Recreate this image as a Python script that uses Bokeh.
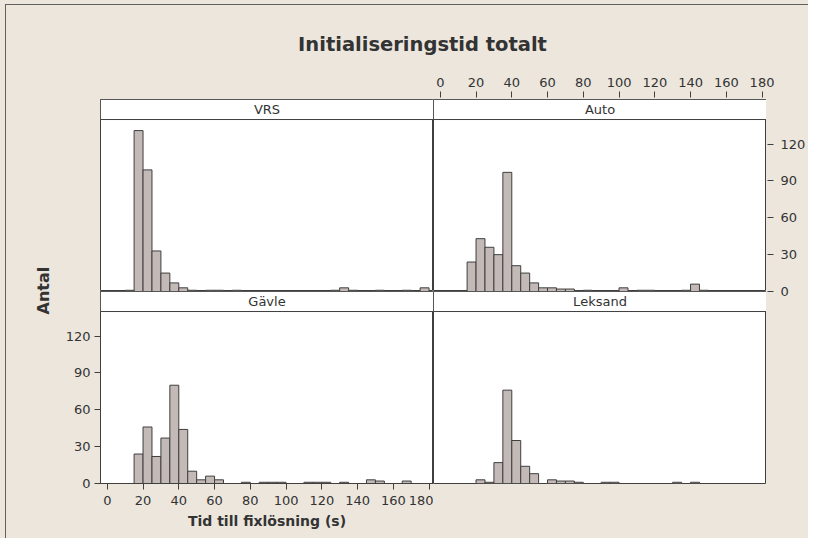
from bokeh.plotting import figure
from bokeh.models import Range1d, LinearAxis, FixedTicker, BoxAnnotation, Label, Spacer, Title
from bokeh.layouts import column, row
from bokeh.embed import file_html
from bokeh.resources import INLINE

# ---------------- data ----------------
title_text = "Initialiseringstid totalt"
x_label = "Tid till fixlösning (s)"
y_label = "Antal"
panel_names = ["VRS", "Auto", "Gävle", "Leksand"]

bin_width = 5
bin_left = [10, 15, 20, 25, 30, 35, 40, 45, 50, 55, 60, 65, 70, 75, 80, 85, 90,
            95, 100, 105, 110, 115, 120, 125, 130, 135, 140, 145, 150, 155, 160,
            165, 170, 175]
vrs = [1, 131, 99, 33, 15, 7, 3, 1, 0, 1, 1, 0, 1, 0, 0, 0, 0, 0, 0, 0, 0, 0, 0,
       1, 3, 1, 0, 0, 1, 0, 0, 1, 0, 3]
auto = [0, 24, 43, 36, 30, 97, 21, 15, 7, 3, 3, 2, 2, 0, 1, 0, 0, 0, 3, 0, 1, 1, 0,
        0, 0, 1, 6, 1, 0, 0, 0, 0, 0, 0]
gavle = [0, 24, 46, 22, 37, 80, 44, 10, 3, 6, 3, 0, 0, 1, 0, 1, 1, 1, 0, 0, 1, 1, 1,
         0, 1, 0, 0, 3, 2, 0, 0, 2, 0, 0]
leksand = [0, 0, 3, 1, 17, 76, 35, 14, 8, 0, 3, 2, 2, 1, 0, 0, 1, 1, 0, 0, 0, 0, 0,
           0, 1, 0, 1, 0, 0, 0, 0, 0, 0, 0]

x_ticks = [0, 20, 40, 60, 80, 100, 120, 140, 160, 180]
y_ticks = [0, 30, 60, 90, 120]

# ---------------- style ----------------
BG = "#ECE6DD"
LINE = "#3F3F3F"
BAR = "#C3B9B6"
TXT = "#333333"
FONT = "DejaVu Sans"

X_START, X_END = -3.8, 182.5
DATA_TOP = 140.0
Y_TOP = 156.3
FRAME_W, FRAME_H = 333, 192


def style_axis(ax):
    ax.major_tick_in = 0
    ax.major_tick_out = 6
    ax.minor_tick_line_color = None
    ax.axis_line_color = LINE
    ax.major_tick_line_color = LINE
    ax.major_label_text_font = FONT
    ax.major_label_text_font_size = "13px"
    ax.major_label_text_color = TXT
    ax.major_label_standoff = 4
    ax.axis_label_text_font = FONT
    ax.axis_label_text_font_style = "bold"
    ax.axis_label_text_font_size = "14px"
    ax.axis_label_text_color = TXT


def blank_fig(width, height, x_range, y_range, ml, mr, mt, mb):
    f = figure(width=width, height=height, x_range=x_range, y_range=y_range,
               output_backend="svg", toolbar_location=None,
               x_axis_location=None, y_axis_location=None,
               min_border_left=ml, min_border_right=mr,
               min_border_top=mt, min_border_bottom=mb)
    f.grid.visible = False
    f.outline_line_color = None
    f.background_fill_color = BG
    f.border_fill_color = BG
    return f


def panel(name, counts, width, height, ml, mt, mb):
    p = figure(width=width, height=height,
               x_range=Range1d(X_START, X_END), y_range=Range1d(0, Y_TOP),
               output_backend="svg", toolbar_location=None,
               x_axis_location=None, y_axis_location=None,
               min_border_left=ml, min_border_right=0,
               min_border_top=mt, min_border_bottom=mb)
    p.grid.visible = False
    p.background_fill_color = "white"
    p.border_fill_color = BG
    p.outline_line_color = LINE
    p.outline_line_width = 1
    lefts = [b for b, c in zip(bin_left, counts) if c > 0]
    tops = [c for c in counts if c > 0]
    rights = [b + bin_width for b in lefts]
    p.quad(left=lefts, right=rights, bottom=0, top=tops,
           fill_color=BAR, line_color=LINE, line_width=1)
    strip = BoxAnnotation(bottom=DATA_TOP, top=Y_TOP, left=X_START, right=X_END,
                          fill_color="white", fill_alpha=1.0,
                          line_color=LINE, line_alpha=1.0, line_width=1)
    p.add_layout(strip)
    p.add_layout(Label(x=(X_START + X_END) / 2, y=(DATA_TOP + Y_TOP) / 2,
                       text=name, text_align="center", text_baseline="middle",
                       text_font=FONT, text_font_size="13px", text_color=TXT))
    return p


ROWC_H = 440
TOP_H = FRAME_H + 1
BOT_H = ROWC_H - TOP_H

tl = panel(panel_names[0], vrs, 40 + FRAME_W, TOP_H, 40, 1, 0)
tr = panel(panel_names[1], auto, FRAME_W, TOP_H, 0, 1, 0)
bl = panel(panel_names[2], gavle, 40 + FRAME_W, BOT_H, 40, 0, BOT_H - FRAME_H)
br = panel(panel_names[3], leksand, FRAME_W, BOT_H, 0, 0, BOT_H - FRAME_H)

# bottom and left axes of the Gävle panel
ax = LinearAxis(ticker=FixedTicker(ticks=x_ticks), axis_label=x_label)
style_axis(ax)
ax.major_label_standoff = 6
ax.axis_label_standoff = 5
bl.add_layout(ax, "below")
ax = LinearAxis(ticker=FixedTicker(ticks=y_ticks))
style_axis(ax)
bl.add_layout(ax, "left")

# top x axis (above the Auto panel)
top_ax_fig = blank_fig(FRAME_W + 42, 34, Range1d(X_START, X_END), Range1d(0, 1),
                       0, 42, 33, 0)
ax = LinearAxis(ticker=FixedTicker(ticks=x_ticks))
style_axis(ax)
ax.axis_line_color = None
ax.major_label_standoff = 5
top_ax_fig.add_layout(ax, "above")

# right y axis (beside the Auto panel)
right_ax_fig = blank_fig(42, ROWC_H, Range1d(0, 1), Range1d(0, Y_TOP),
                         0, 41, 1, BOT_H)
ax = LinearAxis(ticker=FixedTicker(ticks=y_ticks))
style_axis(ax)
ax.axis_line_color = None
ax.major_label_standoff = 7
right_ax_fig.add_layout(ax, "right")

# title
tf = blank_fig(802, 59, Range1d(0, 802), Range1d(0, 59), 0, 0, 0, 0)
tf.add_layout(Label(x=416, y=20, text=title_text, text_align="center",
                    text_baseline="middle", text_font=FONT, text_font_style="bold",
                    text_font_size="19.5px", text_color=TXT))

# y label: a left-side title of a narrow figure whose frame matches the top row,
# started below that frame so that it is centred on the boundary between the rows
yf = figure(width=54, height=ROWC_H, x_range=Range1d(0, 1), y_range=Range1d(0, Y_TOP),
            output_backend="svg", toolbar_location=None,
            x_axis_location=None, y_axis_location=None,
            min_border_left=46, min_border_right=0,
            min_border_top=1, min_border_bottom=BOT_H,
            title=None)
yf.grid.visible = False
yf.outline_line_color = None
yf.background_fill_color = BG
yf.border_fill_color = BG
yf.add_layout(Title(text=y_label, align="left", offset=-23, standoff=0,
                    text_font=FONT, text_font_style="bold", text_font_size="16px",
                    text_color=TXT), "left")

grid = column(row(tl, tr), row(bl, br))
inner = column(tf,
               row(Spacer(width=427, height=34), top_ax_fig),
               row(yf, grid, right_ax_fig),
               margin=(4, 0, 0, 5),
               styles={"background-color": BG,
                       "border-top": "1px solid #606060",
                       "border-left": "1px solid #606060"})
layout = column(inner, width=808, height=538, styles={"background-color": BG})

open("out.html", "w").write(file_html(layout, INLINE))
